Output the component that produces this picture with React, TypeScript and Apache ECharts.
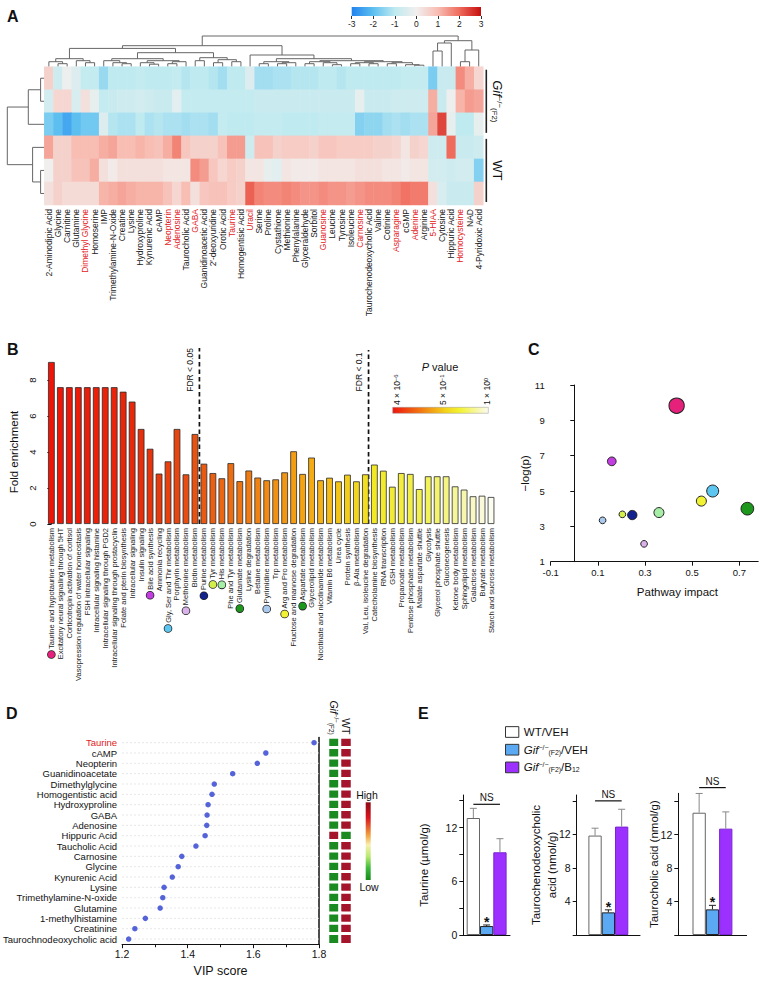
import React, { useEffect, useRef } from 'react';
import * as echarts from 'echarts';

const FONT = '"Liberation Sans", Arial, Helvetica, sans-serif';

/* ---------------- Panel A: heatmap ---------------- */
const heatColumns = ['2-Aminodipic Acid', 'Glycine', 'Carnitine', 'Glutamine', 'Dimethyl Glycine', 'Homoserine', 'IMP', 'Trimethylamine-N-Oxide', 'Creatine', 'Lysine', 'Hydroxyproline', 'Kynurenic Acid', 'cAMP', 'Neopterin', 'Adenosine', 'Taurocholic Acid', 'GABA', 'Guanidinoacetic Acid', '2\u2032-deoxyuridine', 'Orotic Acid', 'Taurine', 'Homogentisic Acid', 'Uracil', 'Serine', 'Proline', 'Cystathione', 'Methionine', 'Phenylalanine', 'Glyceraldehyde', 'Sorbitol', 'Guanosine', 'Leucine', 'Tyrosine', 'Isoleucine', 'Carnosine', 'Taurochenodeoxycholic Acid', 'Valine', 'Cotinine', 'Asparagine', 'cGMP', 'Adenine', 'Arginine', '5-HIAA', 'Cytosine', 'Hippuric Acid', 'Homocysteine', 'NAD', '4-Pyridoxic Acid'];
const heatRedColumns = ['Dimethyl Glycine', 'Neopterin', 'Adenosine', 'GABA', 'Taurine', 'Uracil', 'Guanosine', 'Carnosine', 'Asparagine', 'Adenine', '5-HIAA', 'Homocysteine'];
const heatRowNames = ['Gif-1', 'Gif-2', 'Gif-3', 'WT-1', 'WT-2', 'WT-3'];
const heatGif1 = [0.6, -0.7, -0.1, -0.4, -0.9, -0.9, -1.4, -1.0, -1.0, -1.0, -0.9, -1.0, -1.0, -1.0, -0.9, -1.1, -1.0, -1.0, -1.1, -1.3, -1.0, -1.0, -0.4, -1.3, -1.3, -1.2, -1.2, -1.1, -1.1, -1.1, -1.0, -1.0, -1.1, -1.0, -1.0, -1.0, -1.0, -1.0, -1.0, -0.9, -0.9, -0.9, -1.7, -0.8, -0.8, 1.6, 1.2, 0.5];
const heatGif2 = [-0.6, 0.5, 0.5, -0.5, 0.3, -0.2, -0.9, -0.8, -0.7, -0.7, -0.6, -0.7, -0.8, -0.8, -0.3, -0.9, -0.9, -0.9, -0.9, -0.9, -0.9, -0.9, -0.9, -0.8, -0.8, -0.8, -0.8, -0.8, -0.8, -0.8, -0.8, -0.8, -0.8, -0.8, -0.2, -0.8, -0.8, -0.8, -0.7, -0.7, -0.7, -0.7, 1.2, -0.8, -0.1, 1.1, 1.4, 1.3];
const heatGif3 = [-1.7, -2.0, -2.4, -2.0, -1.8, -1.8, -0.4, -1.1, -1.2, -1.2, -1.0, -1.2, -1.1, -1.2, -1.2, -1.3, -1.2, -1.2, -1.3, -0.9, -1.0, -1.0, -1.0, -0.9, -0.9, -0.9, -1.0, -1.0, -1.0, -1.0, -0.9, -0.9, -0.9, -0.9, -1.6, -1.5, -1.5, -1.3, -1.2, -1.3, -1.2, -1.2, 1.3, 2.4, -0.2, -1.0, -1.0, -0.2];
const heatWT1 = [1.3, 0.6, 0.6, 1.0, 1.0, 1.0, 1.2, 1.3, 1.0, 1.0, 1.1, 1.0, 0.9, 1.2, 1.7, 0.8, 0.6, 0.6, 0.6, 0.9, 1.4, 1.4, -0.7, 0.9, 0.9, 0.6, 0.7, 0.7, 0.7, 0.6, 0.8, 0.8, 0.7, 0.7, 0.7, 0.7, 0.6, 0.6, 0.5, 0.2, 0.6, 0.5, -0.7, -0.7, 2.0, -0.8, -0.8, -0.7];
const heatWT2 = [0.0, 0.6, 0.6, 0.9, 0.9, 1.2, 0.3, 0.1, 0.3, 0.3, 0.3, 0.3, 0.3, 0.2, 0.2, 0.2, 1.6, 1.4, 0.8, 0.5, 0.7, 0.6, 0.2, 0.2, -0.2, -0.3, 0.2, 0.1, 0.1, 0.1, 0.2, 0.2, 0.2, 0.2, 0.3, 0.3, 0.3, 0.2, 0.2, 0.1, 0.2, 0.2, -0.6, -0.6, -0.7, -0.6, -0.6, -1.6];
const heatWT3 = [0.3, 0.6, 0.4, 0.4, 0.4, 0.4, 1.1, 1.2, 1.3, 1.2, 1.1, 1.1, 1.1, 0.9, 0.5, 1.0, 0.3, 0.8, 0.9, 0.9, 0.7, 0.6, 2.1, 1.7, 1.6, 1.6, 1.7, 1.6, 1.5, 1.5, 1.6, 1.5, 1.5, 1.4, 1.5, 1.6, 1.6, 1.6, 1.7, 1.9, 1.8, 1.8, 0.3, -0.5, -0.8, -0.8, -0.8, 0.6];
const heatRows = [heatGif1, heatGif2, heatGif3, heatWT1, heatWT2, heatWT3];
const heatScaleTicks = [-3, -2, -1, 0, 1, 2, 3];
// dendrograms: [height, left, right]; numbers are leaf indices
const colTree: any = [30.7,
  [21,
    [18.3,
      [8, [5, 0, [3, 1, 2]], [6, 3, [4, 4, 5]]],
      [14,
        [8, [6, 6, [4, 7, [3, 8, 9]]], [6, [4, 10, [2.5, 11, 12]], [5, [3, 13, 14], 15]]],
        [9, [6, 16, 17], [7, [4, 18, 19], [5, 20, 21]]]]],
    [11.7, 22,
      [8,
        [5, [3, 23, 24], [4, [3, 25, 26], 27]],
        [6,
          [5, [3, 28, 29], [4, 30, [2, 31, 32]]],
          [5, [4, [3, 33, 34], [3, 35, 36]], [4, [3, 37, 38], [2, 39, [1.5, 40, 41]]]]]]]],
  [26, [23.7, [15.7, 42, 43], 44], [16.7, [5, 45, 46], 47]]];
const rowTree: any = [37, [16, [3.7, 0, 1], 2], [11.7, 3, [3.7, 4, 5]]];
const heatGroupNames = ['Gif', 'WT'];
const heatGroupFrom = [0, 3];
const heatGroupTo = [2, 5];

/* ---------------- Panel B: enrichment ---------------- */
const pathways = ['Taurine and hypotaurine metabolism', 'Excitatory neural signaling through 5HT', 'Corticotropin activation of cortisol', 'Vasopression regulation of water homeostasis', 'FSH intracellular signaling', 'Intracellular signaling histamine', 'Intracellular signaling through PGD2', 'Intracellular signaling through prostacyclin', 'Folate and pterin biosynthesis', 'Intracellular signaling', 'Insulin signaling', 'Bile acid synthesis', 'Ammonia recycling', 'Gly, Ser and Thr metabolism', 'Porphyrin metabolism', 'Methionine metabolism', 'Biotin metabolism', 'Purine metabolism', 'Tyr metabolism', 'His metabolism', 'Phe and Tyr metabolism', 'Glutamate metabolism', 'Lysine degradation', 'Betaine metabolism', 'Pyrimidine metabolism', 'Trp metabolism', 'Arg and Pro metabolism', 'Fructose and mannose degradation', 'Aspartate metabolism', 'Glycerolipid metabolism', 'Nicotinate and nicotinamide metabolism', 'Vitamin B6 metabolism', 'Urea cycle', 'Protein synthesis', '\u03b2-Ala metabolism', 'Val, Leu, isoleucine degradation', 'Catecholamine biosynthesis', 'RNA transcription', 'GSH metabolism', 'Propanoate metabolism', 'Pentose phosphate metabolism', 'Malate aspartate shuttle', 'Glycolysis', 'Glycerol phosphate shuttle', 'Gluconeogenesis', 'Ketone body metabolism', 'Sphingolipid metabolism', 'Galactose metabolism', 'Butyrate metabolism', 'Starch and sucrose metabolism'];
const foldEnrichment = [9.0, 7.6, 7.6, 7.6, 7.6, 7.6, 7.6, 7.6, 7.35, 6.8, 5.28, 4.18, 2.8, 3.48, 5.28, 2.76, 5.0, 3.35, 2.83, 2.54, 3.38, 2.38, 2.97, 2.58, 2.43, 2.48, 2.87, 4.04, 2.78, 3.69, 2.43, 2.57, 2.37, 2.74, 2.37, 2.76, 3.3, 2.96, 2.07, 2.83, 2.78, 1.94, 2.65, 2.65, 2.65, 2.09, 1.91, 1.54, 1.57, 1.5];
const fdrLabels = ['FDR < 0.05', 'FDR < 0.1'];
const fdrPosition = [16.5, 35.35];
const fdrLineTop = [9.78, 9.67];
const pValueLabels = ['4 \u00d7 10{s|\u22126}', '5 \u00d7 10{s|\u22121}', '1 \u00d7 10{s|0}'];

/* ---------------- Panel C: pathway impact ---------------- */
const impactPathways = ['Taurine and hypotaurine metabolism', 'Bile acid synthesis', 'Gly, Ser and Thr metabolism', 'Arg and Pro metabolism', 'Glutamate metabolism', 'His metabolism', 'Purine metabolism', 'Tyr metabolism', 'Pyrimidine metabolism', 'Methionine metabolism'];
const pathwayImpact = [0.434, 0.159, 0.587, 0.539, 0.734, 0.359, 0.246, 0.204, 0.12, 0.296];
const negLogP = [9.83, 6.68, 5.0, 4.43, 4.0, 3.78, 3.64, 3.68, 3.34, 2.01];
const bubbleSize = [15.3, 8.7, 12, 10, 12.7, 10, 9.3, 6.7, 6.7, 6.7];
const impactTicks = [-0.1, 0.1, 0.3, 0.5, 0.7];

/* ---------------- Panel D: VIP ---------------- */
const vipMetabolites = ['Taurine', 'cAMP', 'Neopterin', 'Guanidinoacetate', 'Dimethylglycine', 'Homogentistic acid', 'Hydroxyproline', 'GABA', 'Adenosine', 'Hippuric Acid', 'Taucholic Acid', 'Carnosine', 'Glycine', 'Kynurenic Acid', 'Lysine', 'Trimethylamine-N-oxide', 'Glutamine', '1-methylhistamine', 'Creatinine', 'Taurochnodeoxycholic acid'];
const vipScores = [1.785, 1.638, 1.612, 1.537, 1.481, 1.474, 1.462, 1.459, 1.458, 1.453, 1.425, 1.382, 1.371, 1.353, 1.328, 1.324, 1.316, 1.271, 1.239, 1.22];
const gifLevel = [0, 0, 0, 0, 0, 0, 0, 0, 0, 1, 0, 0, 0, 0, 0, 0, 0, 0, 0, 0];
const wtLevel = [1, 1, 1, 1, 1, 1, 1, 1, 1, 0, 1, 1, 1, 1, 1, 1, 1, 1, 1, 1];

/* ---------------- Panel E: bar charts ---------------- */
const eGroups = ['WT/VEH', 'Gif/VEH', 'Gif/B12'];
const taurineMean = [13.07, 1.0, 9.24];
const taurineSem = [1.08, 0.12, 1.52];
const tcdcaMean = [11.86, 2.7, 12.93];
const tcdcaSem = [0.88, 0.3, 2.07];
const tcaMean = [14.6, 3.06, 12.7];
const tcaSem = [2.3, 0.48, 2.0];
const nsLevel = [14.6, 16.0, 17.6];
const starGroup = 1;

/* ---------------- styles ---------------- */
const heatColorStops = ['#2283ee', '#5dbff0', '#bfeaf0', '#f1efee', '#f8bdb3', '#ef6b5c', '#c50e0e'];
const pathwayColors: Record<string, string> = {
  'Taurine and hypotaurine metabolism': '#e6217c',
  'Bile acid synthesis': '#c23ee0',
  'Gly, Ser and Thr metabolism': '#5cc6f0',
  'Methionine metabolism': '#d9b2ea',
  'Purine metabolism': '#12238f',
  'Tyr metabolism': '#d4ee4c',
  'His metabolism': '#a6eea6',
  'Glutamate metabolism': '#1d981d',
  'Pyrimidine metabolism': '#a9c9ef',
  'Arg and Pro metabolism': '#f2f235',
  'Aspartate metabolism': '#1d981d',
};
const barColorStops: [number, string][] = [[0, '#f01408'], [9, '#e8280a'], [16, '#e85212'], [23, '#f08212'], [30, '#f5b214'], [36, '#f2e824'], [42, '#f2f25a'], [46, '#f6f6ae'], [49, '#fcfcf0']];
const eColors = ['#ffffff', '#5aa9f2', '#9b30ff'];
const eBorders = ['#666', '#222', '#7a26d0'];
const E_BAR_W = 13.3;

function hexToRgb(h: string) {
  const n = parseInt(h.slice(1), 16);
  return [(n >> 16) & 255, (n >> 8) & 255, n & 255];
}
function mix(a: string, b: string, t: number) {
  const A = hexToRgb(a), B = hexToRgb(b);
  return 'rgb(' + A.map((v, i) => Math.round(v + (B[i] - v) * t)).join(',') + ')';
}
function barColor(i: number) {
  for (let k = 1; k < barColorStops.length; k++) {
    if (i <= barColorStops[k][0]) {
      const [i0, c0] = barColorStops[k - 1];
      const [i1, c1] = barColorStops[k];
      return mix(c0, c1, (i - i0) / (i1 - i0));
    }
  }
  return barColorStops[barColorStops.length - 1][1];
}
function layoutTree(node: any, segs: number[][]): { x: number; h: number } {
  if (typeof node === 'number') return { x: node, h: 0 };
  const [h, l, r] = node;
  const a = layoutTree(l, segs);
  const b = layoutTree(r, segs);
  segs.push([a.x, a.h, b.x, b.h, h]);
  return { x: (a.x + b.x) / 2, h };
}

const gifRich = (size: number) => ({
  i: { fontStyle: 'italic', fontSize: size, fontFamily: FONT, color: '#111' },
  s: { fontSize: size * 0.6, verticalAlign: 'top', lineHeight: size * 0.7, fontFamily: FONT, color: '#111' },
  b: { fontSize: size * 0.6, verticalAlign: 'bottom', lineHeight: size * 0.7, fontFamily: FONT, color: '#111' },
  n: { fontSize: size, fontFamily: FONT, color: '#111' },
});

function buildOption() {
  const colSegs: number[][] = [];
  layoutTree(colTree, colSegs);
  const rowSegs: number[][] = [];
  layoutTree(rowTree, rowSegs);

  const dotRich: any = {};
  pathways.forEach((p, i) => {
    if (pathwayColors[p]) {
      dotRich['p' + i] = { width: 7, height: 7, borderRadius: 3.5, backgroundColor: pathwayColors[p], borderColor: '#222', borderWidth: 0.8 };
    }
  });

  const series: any[] = [];
  series.push({
    type: 'custom', xAxisIndex: 0, yAxisIndex: 0, silent: true, data: colSegs,
    renderItem: (params: any, api: any) => {
      const x1 = api.value(0), h1 = api.value(1), x2 = api.value(2), h2 = api.value(3), h = api.value(4);
      return { type: 'polyline', shape: { points: [api.coord([x1, h1]), api.coord([x1, h]), api.coord([x2, h]), api.coord([x2, h2])] }, style: { stroke: '#666', lineWidth: 1, fill: 'none' } };
    },
  });
  series.push({
    type: 'custom', xAxisIndex: 1, yAxisIndex: 1, silent: true, data: rowSegs,
    renderItem: (params: any, api: any) => {
      const x1 = api.value(0), h1 = api.value(1), x2 = api.value(2), h2 = api.value(3), h = api.value(4);
      return { type: 'polyline', shape: { points: [api.coord([h1, x1]), api.coord([h, x1]), api.coord([h, x2]), api.coord([h2, x2])] }, style: { stroke: '#666', lineWidth: 1, fill: 'none' } };
    },
  });
  const heatIdx = series.length;
  series.push({
    type: 'heatmap', xAxisIndex: 2, yAxisIndex: 2, silent: true,
    data: heatRows.flatMap((row, r) => row.map((v, c) => [c, r, v])),
  });
  series.push({
    type: 'custom', xAxisIndex: 2, yAxisIndex: 2, silent: true,
    data: heatGroupNames.map((g, i) => [0, heatGroupFrom[i], heatGroupTo[i]]),
    encode: { x: 0, y: 1 },
    renderItem: (params: any, api: any) => {
      const cs = params.coordSys;
      const cell = api.size([1, 1]);
      const yA = api.coord([0, api.value(1)])[1] - cell[1] / 2 + 3;
      const yB = api.coord([0, api.value(2)])[1] + cell[1] / 2 - 3;
      const x = cs.x + cs.width + 3;
      const name = heatGroupNames[params.dataIndex];
      const text = name === 'Gif' ? '{i|Gif}{s|\u2212/\u2212}{b|(F2)}' : '{n|WT}';
      return {
        type: 'group', children: [
          { type: 'line', shape: { x1: x, y1: yA, x2: x, y2: yB }, style: { stroke: '#222', lineWidth: 1.6 } },
          { type: 'text', x: x + 11, y: (yA + yB) / 2, rotation: -Math.PI / 2, style: { text, rich: gifRich(13), align: 'center', verticalAlign: 'middle', fill: '#111' } },
        ],
      };
    },
  });
  series.push({
    type: 'custom', xAxisIndex: 3, yAxisIndex: 3, silent: true,
    data: [[heatScaleTicks[0], 0]],
    renderItem: (params: any, api: any) => {
      const p0 = api.coord([heatScaleTicks[0], 1]);
      const p1 = api.coord([heatScaleTicks[heatScaleTicks.length - 1], 0]);
      return {
        type: 'rect', shape: { x: p0[0], y: p0[1], width: p1[0] - p0[0], height: p1[1] - p0[1] },
        style: { fill: new echarts.graphic.LinearGradient(0, 0, 1, 0, heatColorStops.map((c, i) => ({ offset: i / (heatColorStops.length - 1), color: c }))) },
      };
    },
  });
  series.push({
    type: 'bar', xAxisIndex: 4, yAxisIndex: 4, data: foldEnrichment, barWidth: 6.7, clip: false, silent: true,
    itemStyle: { color: (p: any) => barColor(p.dataIndex), borderColor: '#2a2a2a', borderWidth: 0.8 },
  });
  series.push({
    type: 'custom', xAxisIndex: 5, yAxisIndex: 4, silent: true,
    data: fdrPosition.map((x, i) => [x, fdrLineTop[i]]),
    renderItem: (params: any, api: any) => {
      const x = api.value(0), top = api.value(1);
      const p0 = api.coord([x, 0]);
      const p1 = api.coord([x, top]);
      return {
        type: 'group', children: [
          { type: 'line', shape: { x1: p0[0], y1: p0[1], x2: p1[0], y2: p1[1] }, style: { stroke: '#111', lineWidth: 1.7, lineDash: [4.5, 3] } },
          { type: 'text', x: p1[0] - 9.5, y: p1[1] + 22, rotation: Math.PI / 2, style: { text: fdrLabels[params.dataIndex], fontSize: 8.5, fontFamily: FONT, align: 'center', verticalAlign: 'middle', fill: '#111' } },
        ],
      };
    },
  });
  series.push({
    type: 'scatter', xAxisIndex: 6, yAxisIndex: 5, silent: true,
    data: impactPathways.map((p, i) => ({ value: [pathwayImpact[i], negLogP[i]], symbolSize: bubbleSize[i], itemStyle: { color: pathwayColors[p] } })),
    itemStyle: { borderColor: '#222', borderWidth: 1, opacity: 1 },
  });
  series.push({
    type: 'custom', xAxisIndex: 7, yAxisIndex: 6, silent: true, z: 1,
    data: vipScores.map((v, i) => [v, i]),
    renderItem: (params: any, api: any) => {
      const cs = params.coordSys;
      const y = api.coord([api.value(0), api.value(1)])[1];
      return { type: 'line', shape: { x1: cs.x, y1: y, x2: cs.x + cs.width, y2: y }, style: { stroke: '#e0e0e0', lineWidth: 0.8, lineDash: [2, 2] } };
    },
  });
  series.push({
    type: 'scatter', xAxisIndex: 7, yAxisIndex: 6, silent: true, z: 3,
    data: vipScores.map((v, i) => [v, i]), symbolSize: 5.5, itemStyle: { color: '#2a3fd0' },
  });
  const dHeatIdx = series.length;
  series.push({
    type: 'heatmap', xAxisIndex: 8, yAxisIndex: 8, silent: true,
    data: vipMetabolites.flatMap((_, i) => [[0, i, gifLevel[i]], [1, i, wtLevel[i]]]),
    itemStyle: { borderColor: '#fff', borderWidth: 3 },
  });
  const eData = [[taurineMean, taurineSem], [tcdcaMean, tcdcaSem], [tcaMean, tcaSem]];
  eData.forEach(([mean, sem], k) => {
    eGroups.forEach((g, gi) => {
      series.push({
        type: 'bar', name: g, xAxisIndex: 9 + k, yAxisIndex: 9 + k, data: [mean[gi]], barWidth: E_BAR_W, barGap: '0%', silent: true,
        itemStyle: { color: eColors[gi], borderColor: eBorders[gi], borderWidth: 1 },
      });
    });
    series.push({
      type: 'custom', xAxisIndex: 9 + k, yAxisIndex: 9 + k, silent: true, z: 5,
      data: mean.map((m, i) => [0, m, sem[i], i]),
      encode: { x: 0, y: 1 },
      renderItem: (params: any, api: any) => {
        const m = api.value(1), e = api.value(2), i = api.value(3);
        const base = api.coord([0, m]);
        const cx = base[0] + (i - 1) * E_BAR_W;
        const yTop = api.coord([0, m + e])[1];
        const col = i === 1 ? '#222' : '#888';
        const children: any[] = [
          { type: 'line', shape: { x1: cx, y1: base[1], x2: cx, y2: yTop }, style: { stroke: col, lineWidth: 1 } },
          { type: 'line', shape: { x1: cx - 3.5, y1: yTop, x2: cx + 3.5, y2: yTop }, style: { stroke: col, lineWidth: 1 } },
        ];
        if (i === starGroup) {
          children.push({ type: 'text', x: cx, y: yTop - 3, style: { text: '*', fontSize: 14, fontWeight: 'bold', fontFamily: FONT, align: 'center', verticalAlign: 'middle', fill: '#111' } });
        }
        if (i === 0) {
          const yN = api.coord([0, nsLevel[k]])[1];
          children.push({ type: 'line', shape: { x1: cx, y1: yN, x2: cx + 2 * E_BAR_W, y2: yN }, style: { stroke: '#111', lineWidth: 1.2 } });
          children.push({ type: 'text', x: cx + E_BAR_W, y: yN - 1.5, style: { text: 'NS', fontSize: 10, fontFamily: FONT, align: 'center', verticalAlign: 'bottom', fill: '#111' } });
        }
        return { type: 'group', children };
      },
    });
  });

  const blackAxis = { lineStyle: { color: '#111', width: 1 } };
  const eYAxis = (k: number, max: number, ticks: number[], labels: number[], name: string, nameGap: number) => ({
    type: 'value', gridIndex: 8 + k, min: 0, max,
    axisLine: { show: true, ...blackAxis }, splitLine: { show: false },
    axisTick: { show: true, length: 4, customValues: ticks, lineStyle: { color: '#111' } },
    axisLabel: { fontSize: 10.5, color: '#111', margin: 6, customValues: labels },
    name, nameLocation: 'middle', nameGap, nameMoveOverlap: false,
    nameTextStyle: { fontSize: 11.5, color: '#111', lineHeight: 16 },
  });
  const eXAxis = (k: number) => ({
    type: 'category', gridIndex: 8 + k, data: [''], axisLine: { show: true, ...blackAxis }, axisTick: { show: false }, axisLabel: { show: false },
  });

  return {
    animation: false,
    backgroundColor: '#fff',
    textStyle: { fontFamily: FONT },
    grid: [
      { left: 44.3, top: 34, width: 439, height: 32.7 },
      { left: 7, top: 66.7, width: 37.3, height: 138.3 },
      { left: 44.3, top: 66.7, width: 439, height: 138.3 },
      { left: 351.7, top: 7, width: 129.3, height: 9 },
      { left: 40.5, top: 380, width: 455, height: 144 },
      { left: 550.7, top: 385, width: 207.5, height: 176.7 },
      { left: 119, top: 737.5, width: 200, height: 206.7 },
      { left: 328, top: 737.5, width: 24, height: 206.7 },
      { left: 463.3, top: 795, width: 46.7, height: 140 },
      { left: 576.7, top: 795, width: 63.3, height: 140 },
      { left: 678.3, top: 793.3, width: 68.3, height: 141.7 },
    ],
    xAxis: [
      { type: 'value', gridIndex: 0, min: -0.5, max: heatColumns.length - 0.5, show: false },
      { type: 'value', gridIndex: 1, min: 0, max: 37.3, inverse: true, show: false },
      {
        type: 'category', gridIndex: 2,
        data: heatColumns.map((n) => (heatRedColumns.includes(n) ? { value: n, textStyle: { color: '#e3211c' } } : n)),
        axisLine: { show: false }, axisTick: { show: false },
        axisLabel: { rotate: 90, interval: 0, fontSize: 8.5, color: '#222', margin: 4 },
      },
      {
        type: 'value', gridIndex: 3, min: heatScaleTicks[0], max: heatScaleTicks[heatScaleTicks.length - 1], interval: 1,
        axisLine: { show: false }, splitLine: { show: false },
        axisTick: { show: true, length: 3, lineStyle: { color: '#333' } },
        axisLabel: { fontSize: 8.5, color: '#222', margin: 3 },
      },
      {
        type: 'category', gridIndex: 4, data: pathways,
        axisLine: { show: false }, axisTick: { show: false },
        axisLabel: {
          rotate: 90, interval: 0, fontSize: 7.5, color: '#222', margin: 4,
          formatter: (v: string, idx: number) => (pathwayColors[v] ? '{p' + idx + '| } ' + v : v),
          rich: dotRich,
        },
      },
      { type: 'value', gridIndex: 4, min: -0.5, max: pathways.length - 0.5, show: false },
      {
        type: 'value', gridIndex: 5, min: -0.1, max: 0.78,
        axisLine: { show: true, ...blackAxis }, splitLine: { show: false },
        axisTick: { show: true, length: 4, customValues: impactTicks, lineStyle: { color: '#111' } },
        axisLabel: { fontSize: 9.5, color: '#111', margin: 6, customValues: impactTicks, formatter: (v: number) => v.toFixed(1) },
        name: 'Pathway impact', nameLocation: 'middle', nameGap: 24,
        nameTextStyle: { fontSize: 11.5, color: '#111', padding: [0, 0, 0, 46] },
      },
      {
        type: 'value', gridIndex: 6, min: 1.2, max: 1.8, interval: 0.2,
        axisLine: { show: true, lineStyle: { color: '#111', width: 1.2 } }, splitLine: { show: false },
        axisTick: { show: true, length: 4, lineStyle: { color: '#111' } },
        minorTick: { show: true, splitNumber: 2, length: 3, lineStyle: { color: '#111' } },
        axisLabel: { fontSize: 10.5, color: '#111', margin: 4, formatter: (v: number) => v.toFixed(1) },
        name: 'VIP score', nameLocation: 'middle', nameGap: 20, nameTextStyle: { fontSize: 12.5, color: '#111' },
      },
      {
        type: 'category', gridIndex: 7, data: ['Gif', 'WT'], position: 'top',
        axisLine: { show: false }, axisTick: { show: false },
        axisLabel: {
          rotate: 90, interval: 0, fontSize: 10.5, color: '#111', margin: 3,
          formatter: (v: string) => (v === 'Gif' ? '{i|Gif}{s|\u2212/\u2212}{b|(F2)}' : '{n|WT}'),
          rich: gifRich(10.5),
        },
      },
      eXAxis(0), eXAxis(1), eXAxis(2),
    ],
    yAxis: [
      { type: 'value', gridIndex: 0, min: 0, max: 32.7, show: false },
      { type: 'value', gridIndex: 1, min: -0.5, max: heatRowNames.length - 0.5, inverse: true, show: false },
      { type: 'category', gridIndex: 2, data: heatRowNames, inverse: true, show: false },
      { type: 'value', gridIndex: 3, min: 0, max: 1, show: false },
      {
        type: 'value', gridIndex: 4, min: 0, max: 8, interval: 2, offset: 5,
        axisLine: { show: true, ...blackAxis }, splitLine: { show: false },
        axisTick: { show: true, length: 4, lineStyle: { color: '#111' } },
        axisLabel: { rotate: 90, fontSize: 9.5, color: '#111', margin: 4 },
        name: 'Fold enrichment', nameLocation: 'middle', nameGap: 18, nameTextStyle: { fontSize: 11.5, color: '#111' },
      },
      {
        type: 'value', gridIndex: 5, min: 1, max: 11, interval: 2,
        axisLine: { show: true, ...blackAxis }, splitLine: { show: false },
        axisTick: { show: true, length: 4, lineStyle: { color: '#111' } },
        axisLabel: { fontSize: 9.5, color: '#111', margin: 6 },
        name: '\u2212log(p)', nameLocation: 'middle', nameGap: 18, nameTextStyle: { fontSize: 11.5, color: '#111' },
      },
      {
        type: 'category', gridIndex: 6, inverse: true,
        data: vipMetabolites.map((n) => (n === 'Taurine' ? { value: n, textStyle: { color: '#e3211c' } } : n)),
        axisLine: { show: false }, axisTick: { show: false },
        axisLabel: { fontSize: 9.5, color: '#111', margin: 5, interval: 0 },
      },
      {
        type: 'category', gridIndex: 6, inverse: true, position: 'right', data: vipMetabolites,
        axisLine: { show: true, lineStyle: { color: '#111', width: 1.5 } }, axisTick: { show: false }, axisLabel: { show: false },
      },
      { type: 'category', gridIndex: 7, data: vipMetabolites, inverse: true, show: false },
      eYAxis(0, 15.64, [0, 3, 6, 9, 12, 15], [0, 6, 12], 'Taurine (\u00b5mol/g)', 31),
      eYAxis(1, 16.7, [0, 4, 8, 12, 16], [4, 8, 12], 'Taurochenodeoxycholic\nacid (nmol/g)', 17),
      eYAxis(2, 16.92, [0, 4, 8, 12, 16], [4, 8, 12], 'Taurocholic acid (nmol/g)', 16),
    ],
    visualMap: [
      { type: 'continuous', seriesIndex: heatIdx, dimension: 2, min: -3, max: 3, inRange: { color: heatColorStops }, show: false },
      { type: 'piecewise', seriesIndex: dHeatIdx, dimension: 2, pieces: [{ value: 0, color: '#1b8a21' }, { value: 1, color: '#a4152b' }], show: false },
    ],
    legend: {
      data: eGroups, orient: 'vertical', left: 505, top: 726, padding: 0, itemWidth: 13.3, itemHeight: 10.7, itemGap: 5.7,
      selectedMode: false, icon: 'rect',
      itemStyle: { borderColor: '#333', borderWidth: 1 },
      formatter: (n: string) => (n === 'WT/VEH' ? '{n|WT/VEH}' : n === 'Gif/VEH' ? '{i|Gif}{s|\u2212/\u2212}{b|(F2)}{n|/VEH}' : '{i|Gif}{s|\u2212/\u2212}{b|(F2)}{n|/B}{b|12}'),
      textStyle: { fontSize: 11.5, color: '#111', rich: gifRich(11.5) },
    },
    graphic: [
      { type: 'text', left: 7, top: 8, style: { text: 'A', fontSize: 16, fontWeight: 'bold', fontFamily: FONT, fill: '#111' } },
      { type: 'text', left: 7, top: 341, style: { text: 'B', fontSize: 16, fontWeight: 'bold', fontFamily: FONT, fill: '#111' } },
      { type: 'text', left: 528, top: 341, style: { text: 'C', fontSize: 16, fontWeight: 'bold', fontFamily: FONT, fill: '#111' } },
      { type: 'text', left: 6, top: 705, style: { text: 'D', fontSize: 16, fontWeight: 'bold', fontFamily: FONT, fill: '#111' } },
      { type: 'text', left: 418, top: 705, style: { text: 'E', fontSize: 16, fontWeight: 'bold', fontFamily: FONT, fill: '#111' } },
      { type: 'text', x: 440, y: 367, style: { text: '{i|P} value', rich: { i: { fontStyle: 'italic', fontSize: 11, fontFamily: FONT } }, fontSize: 11, fontFamily: FONT, align: 'center', verticalAlign: 'middle', fill: '#111' } },
      {
        type: 'rect', x: 392.7, y: 407.3, shape: { width: 95.6, height: 6 },
        style: { fill: new echarts.graphic.LinearGradient(0, 0, 1, 0, [{ offset: 0, color: '#ee1510' }, { offset: 0.3, color: '#f27a10' }, { offset: 0.55, color: '#f3d21a' }, { offset: 0.7, color: '#f2f230' }, { offset: 1, color: '#fbfbf2' }]), stroke: '#999', lineWidth: 0.5 },
      },
      ...pValueLabels.map((t, i) => ({
        type: 'text', x: [397, 443, 487][i], y: 405, rotation: Math.PI / 2,
        style: { text: t, rich: { s: { fontSize: 6, verticalAlign: 'top', lineHeight: 7, fontFamily: FONT } }, fontSize: 8.5, fontFamily: FONT, align: 'left', verticalAlign: 'middle', fill: '#111' },
      })),
      { type: 'text', x: 367, y: 795, style: { text: 'High', fontSize: 10.5, fontFamily: FONT, align: 'center', verticalAlign: 'middle', fill: '#111' } },
      {
        type: 'rect', x: 365.7, y: 802.3, shape: { width: 5, height: 77.7 },
        style: { fill: new echarts.graphic.LinearGradient(0, 0, 0, 1, [{ offset: 0, color: '#8c0a14' }, { offset: 0.2, color: '#d8161e' }, { offset: 0.42, color: '#f0a040' }, { offset: 0.55, color: '#f8f0b0' }, { offset: 0.7, color: '#b8e870' }, { offset: 0.85, color: '#3cb83c' }, { offset: 1, color: '#178a17' }]) },
      },
      { type: 'text', x: 369, y: 887, style: { text: 'Low', fontSize: 10.5, fontFamily: FONT, align: 'center', verticalAlign: 'middle', fill: '#111' } },
    ],
    series,
  };
}

export default function App() {
  const ref = useRef<HTMLDivElement>(null);
  useEffect(() => {
    document.body.style.margin = '0';
    const chart = echarts.init(ref.current as HTMLDivElement, null, { renderer: 'svg' });
    chart.setOption(buildOption() as any);
    return () => chart.dispose();
  }, []);
  return <div ref={ref} style={{ width: 760, height: 988 }} />;
}
